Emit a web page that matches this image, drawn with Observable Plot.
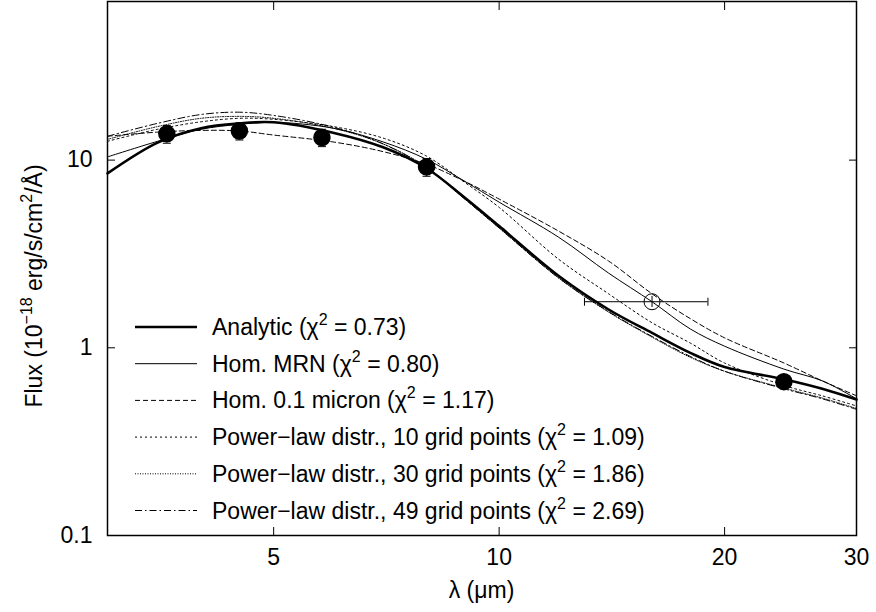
<!DOCTYPE html>
<html><head><meta charset="utf-8">
<script src="https://cdn.jsdelivr.net/npm/d3@7"></script>
<script src="https://cdn.jsdelivr.net/npm/@observablehq/plot@0.6"></script>
<style>
html,body{margin:0;padding:0;background:#fff;}
#chart{width:876px;height:612px;position:relative;}
svg{display:block;}
</style></head><body><div id="chart"></div>
<script>
// wavelength grid (micron)
const lambda = [3, 3.5, 4, 4.5, 5, 6, 7, 8, 9, 10, 12, 14, 16, 18, 20, 24, 27, 30];
// model fluxes (1e-18 erg/s/cm2/A)
const analytic = [8.5, 12.4, 14.8, 15.7, 15.9, 14.0, 11.7, 9.05, 6.3, 4.45, 2.42, 1.6, 1.2, 0.94, 0.79, 0.68, 0.605, 0.53];
const homMRN   = [10.4, 12.6, 14.6, 15.5, 15.9, 14.8, 12.5, 10.1, 7.7, 5.97, 3.89, 2.5, 1.76, 1.26, 1.02, 0.77, 0.667, 0.535];
const hom01    = [13.4, 14.1, 14.4, 14.3, 13.6, 12.5, 11.1, 9.5, 7.7, 6.2, 4.19, 2.9, 1.94, 1.43, 1.13, 0.83, 0.667, 0.555];
const pl10     = [12.6, 14.6, 16.0, 16.7, 16.5, 15.1, 13.1, 10.5, 7.6, 5.6, 2.97, 1.94, 1.36, 1.06, 0.83, 0.63, 0.555, 0.49];
const pl30     = [12.9, 15.1, 16.7, 17.1, 16.7, 14.8, 12.2, 9.17, 6.2, 4.35, 2.36, 1.55, 1.14, 0.89, 0.75, 0.61, 0.54, 0.475];
const pl49     = [13.4, 15.7, 17.5, 18.0, 17.3, 15.0, 12.2, 9.1, 6.2, 4.35, 2.36, 1.56, 1.15, 0.9, 0.75, 0.605, 0.535, 0.47];

// observed photometry
const obsLambda = [3.6, 4.5, 5.8, 8.0, 24];
const obsFlux   = [13.8, 14.3, 13.2, 9.2, 0.66];
const obsErr    = [1.5, 1.5, 1.4, 1.0, 0.05];
// open point (peak-up)
const openLambda = [16];
const openFlux   = [1.76];
const openErr    = [0.12];
const openLo     = [13];
const openHi     = [19];

// legend
const legendLabels = ["Analytic", "Hom. MRN", "Hom. 0.1 micron",
  "Power\u2212law distr., 10 grid points", "Power\u2212law distr., 30 grid points", "Power\u2212law distr., 49 grid points"];
const chiValues = ["0.73", "0.80", "1.17", "1.09", "1.86", "2.69"];

const xTicks = [5, 10, 20, 30];
const yTicks = [0.1, 1, 10];

const seriesList = [analytic, homMRN, hom01, pl10, pl30, pl49];
const styles = [
  {w: 2.6, dash: null},
  {w: 1, dash: null},
  {w: 1, dash: "5,3"},
  {w: 1, dash: "2,3"},
  {w: 1, dash: "1,1.5"},
  {w: 1, dash: "7,3,1.5,3"}
];

const obs = obsLambda.map((l, i) => ({l, f: obsFlux[i], lo: obsFlux[i] - obsErr[i], hi: obsFlux[i] + obsErr[i]}));
const open = openLambda.map((l, i) => ({l, f: openFlux[i], lo: openFlux[i] - openErr[i], hi: openFlux[i] + openErr[i], xlo: openLo[i], xhi: openHi[i]}));

const capH = {draw(ctx, size) { const r = Math.sqrt(size / Math.PI); ctx.moveTo(-r, 0); ctx.lineTo(r, 0); }};
const capV = {draw(ctx, size) { const r = Math.sqrt(size / Math.PI); ctx.moveTo(0, -r); ctx.lineTo(0, r); }};

const lineMarks = seriesList.map((s, k) => Plot.line(lambda.map((l, i) => ({l, f: s[i]})), {
  x: "l", y: "f", curve: "catmull-rom", stroke: "black",
  strokeWidth: styles[k].w, strokeDasharray: styles[k].dash
}));

const FONT = "'Liberation Sans', Arial, Helvetica, sans-serif";
const FS = 23;
const empty = () => "";

const plot = Plot.plot({
  width: 876, height: 612,
  marginLeft: 107, marginRight: 20, marginTop: 1, marginBottom: 77,
  style: {fontFamily: FONT, fontSize: FS + "px", background: "white", color: "black"},
  x: {type: "log", domain: [3, 30]},
  y: {type: "log", domain: [0.1, 70]},
  marks: [
    // inward ticks on all four sides
    Plot.axisX(xTicks, {anchor: "bottom", tickSize: 8, dy: -8, tickFormat: empty, label: null}),
    Plot.axisX(xTicks, {anchor: "top", tickSize: 8, dy: 8, tickFormat: empty, label: null}),
    Plot.axisY(yTicks, {anchor: "left", tickSize: 8, dx: 8, tickFormat: empty, label: null}),
    Plot.axisY(yTicks, {anchor: "right", tickSize: 8, dx: -8, tickFormat: empty, label: null}),
    // tick labels
    Plot.axisX(xTicks, {anchor: "bottom", tickSize: 0, tickPadding: 13, tickFormat: d => String(d), label: null, fontSize: FS}),
    Plot.axisY(yTicks, {anchor: "left", tickSize: 0, tickPadding: 15, tickFormat: d => String(d), label: null, fontSize: FS}),
    ...lineMarks,
    // error bars
    Plot.ruleX(obs, {x: "l", y1: "lo", y2: "hi", stroke: "black", strokeWidth: 1}),
    Plot.dot(obs, {x: "l", y: "lo", symbol: capH, r: 4, stroke: "black", strokeWidth: 1}),
    Plot.dot(obs, {x: "l", y: "hi", symbol: capH, r: 4, stroke: "black", strokeWidth: 1}),
    Plot.dot(obs, {x: "l", y: "f", r: 8, fill: "black", stroke: "black"}),
    Plot.ruleX(open, {x: "l", y1: "lo", y2: "hi", stroke: "black", strokeWidth: 1}),
    Plot.ruleY(open, {y: "f", x1: "xlo", x2: "xhi", stroke: "black", strokeWidth: 1}),
    Plot.dot(open, {x: "xlo", y: "f", symbol: capV, r: 4, stroke: "black", strokeWidth: 1}),
    Plot.dot(open, {x: "xhi", y: "f", symbol: capV, r: 4, stroke: "black", strokeWidth: 1}),
    Plot.dot(open, {x: "l", y: "f", r: 8, fill: "none", stroke: "black", strokeWidth: 1}),
    Plot.frame({stroke: "black", strokeWidth: 1.5})
  ]
});

document.getElementById("chart").appendChild(plot);

const svg = d3.select(plot);
// legend
const leg = svg.append("g").attr("font-family", FONT).attr("font-size", FS)
  .attr("fill", "black").attr("text-anchor", "start");
legendLabels.forEach((lab, i) => {
  const y = 327 + i * 36.7;
  leg.append("line").attr("x1", 135).attr("x2", 197).attr("y1", y).attr("y2", y)
    .attr("stroke", "black").attr("stroke-width", styles[i].w)
    .attr("stroke-dasharray", styles[i].dash);
  const t = leg.append("text").attr("x", 212).attr("y", y + 8);
  t.append("tspan").text(lab + " (\u03c7");
  t.append("tspan").attr("font-size", 16).attr("dy", -10).text("2");
  t.append("tspan").attr("dy", 10).text(" = " + chiValues[i] + ")");
});

// axis titles
svg.append("text").attr("x", 481.5).attr("y", 598).attr("text-anchor", "middle")
  .attr("font-family", FONT).attr("font-size", FS).text("\u03bb (\u03bcm)");

const yl = svg.append("text").attr("transform", "translate(42,286) rotate(-90)")
  .attr("text-anchor", "middle").attr("font-family", FONT).attr("font-size", FS);
yl.append("tspan").text("Flux (10");
yl.append("tspan").attr("font-size", 16).attr("dy", -10).text("\u221218");
yl.append("tspan").attr("dy", 10).text(" erg/s/cm");
yl.append("tspan").attr("font-size", 16).attr("dy", -10).text("2");
yl.append("tspan").attr("dy", 10).text("/\u00c5)");
</script>
</body></html>
